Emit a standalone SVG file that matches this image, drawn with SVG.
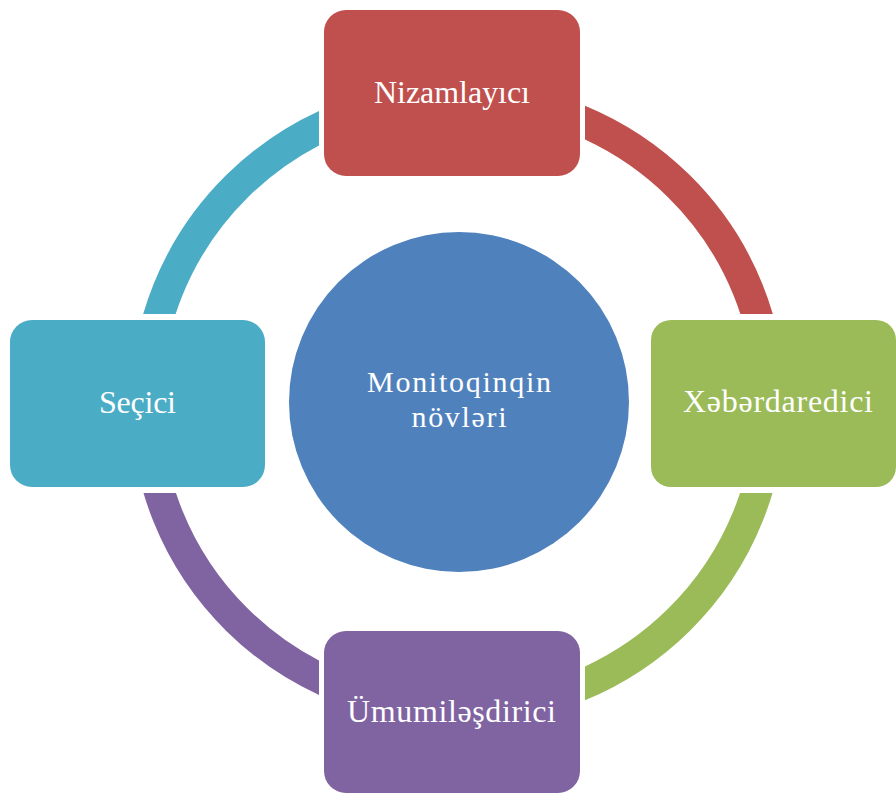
<svg xmlns="http://www.w3.org/2000/svg" width="896" height="794" viewBox="0 0 896 794">
<style>
.lbl{font-family:"Liberation Serif","DejaVu Serif",serif;font-size:32px;fill:#FFFFFF;text-anchor:middle}
.ctr{font-size:30px}
.arc{fill:none;stroke-width:31}
</style>
<defs>
<clipPath id="cTR"><rect x="585" y="0" width="311" height="314"/></clipPath>
<clipPath id="cBR"><rect x="585" y="493" width="311" height="301"/></clipPath>
<clipPath id="cBL"><rect x="0" y="493" width="319" height="301"/></clipPath>
<clipPath id="cTL"><rect x="0" y="0" width="319" height="314"/></clipPath>
</defs>
<rect width="896" height="794" fill="#FFFFFF"/>
<g id="connectors">
<ellipse class="arc" cx="458" cy="403" rx="312" ry="307" stroke="#C0504D" clip-path="url(#cTR)"/>
<ellipse class="arc" cx="458" cy="403" rx="312" ry="307" stroke="#9BBB59" clip-path="url(#cBR)"/>
<ellipse class="arc" cx="458" cy="403" rx="312" ry="307" stroke="#8064A2" clip-path="url(#cBL)"/>
<ellipse class="arc" cx="458" cy="403" rx="312" ry="307" stroke="#4BACC6" clip-path="url(#cTL)"/>
</g>
<g id="center">
<circle cx="459" cy="402" r="170" fill="#4F81BD"/>
<text class="lbl ctr" x="459" y="392" textLength="184" lengthAdjust="spacing">Monitoqinqin</text>
<text class="lbl ctr" x="459" y="427" textLength="95" lengthAdjust="spacing">növləri</text>
</g>
<g id="node-top">
<rect x="324" y="10" width="256" height="166" rx="22" fill="#C0504D"/>
<text class="lbl" x="452" y="103" textLength="156" lengthAdjust="spacing">Nizamlayıcı</text>
</g>
<g id="node-right">
<rect x="651" y="320" width="245" height="167" rx="20" fill="#9BBB59"/>
<text class="lbl" x="778" y="412" textLength="190" lengthAdjust="spacing">Xəbərdaredici</text>
</g>
<g id="node-bottom">
<rect x="324" y="631" width="256" height="162" rx="22" fill="#8064A2"/>
<text class="lbl" x="451.5" y="722" textLength="209" lengthAdjust="spacing">Ümumiləşdirici</text>
</g>
<g id="node-left">
<rect x="10" y="320" width="255" height="167" rx="22" fill="#4BACC6"/>
<text class="lbl" x="137.5" y="413" textLength="77" lengthAdjust="spacing">Seçici</text>
</g>
</svg>
